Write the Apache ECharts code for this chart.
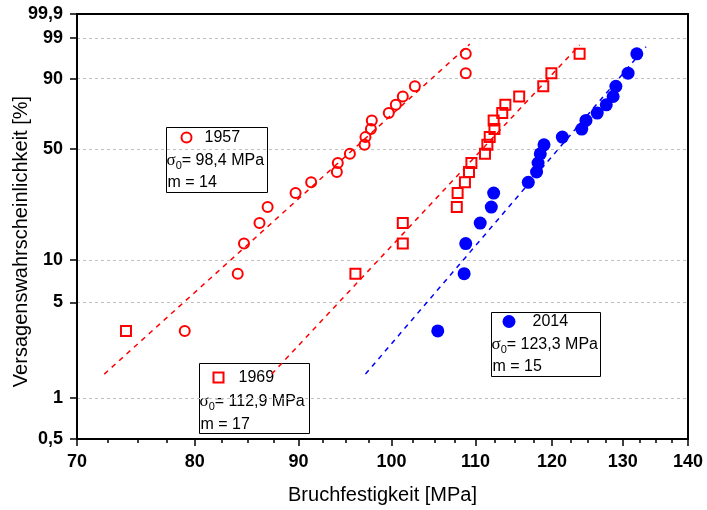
<!DOCTYPE html>
<html>
<head>
<meta charset="utf-8">
<script src="https://cdn.jsdelivr.net/npm/echarts@6/dist/echarts.min.js"></script>
<style>
  html, body { margin: 0; padding: 0; background: #fff; }
  #chart { width: 707px; height: 510px; }
</style>
</head>
<body>
<div id="chart"></div>
<script>
// Weibull plot: failure probability (median ranks) against flexural strength
const probabilityPct = [3.1, 8.0, 13.0, 17.9, 22.8, 28.0, 32.6, 37.5, 42.2, 47.3,
                        52.6, 57.3, 62.3, 67.7, 72.2, 77.1, 81.7, 86.7, 92.0, 97.0];
const strength1957 = [79.1, 84.0, 84.6, 86.1, 86.9, 89.7, 91.3, 94.0, 94.1, 95.4,
                      97.0, 97.1, 97.7, 97.8, 99.7, 100.5, 101.3, 102.7, 108.8, 108.8];
const strength1969 = [74.0, 96.0, 101.3, 101.3, 107.7, 107.8, 108.7, 109.2, 109.5, 111.2,
                      111.5, 111.8, 112.4, 112.3, 113.4, 113.8, 115.6, 118.8, 119.9, 123.8];
const strength2014 = [105.4, 108.6, 108.8, 110.6, 112.0, 112.3, 116.8, 117.9, 118.1, 118.4,
                      118.9, 121.4, 124.1, 124.7, 126.3, 127.6, 128.6, 129.0, 130.8, 132.1];

// Fitted Weibull lines: [strength MPa, probability %] at both ends
const fitLine1957 = [[72.2, 1.5], [109.3, 98.4]];
const fitLine1969 = [[87.3, 1.5], [123.8, 98.3]];
const fitLine2014 = [[97.1, 1.5], [133.5, 98.1]];

// Legend texts
const years = ['1957', '1969', '2014'];
const sigma0 = ['98,4', '112,9', '123,3'];
const modulus = ['14', '17', '15'];

// Axis ticks
const yTicksPct = [0.5, 1, 5, 10, 50, 90, 99, 99.9];
const xTicks = [70, 80, 90, 100, 110, 120, 130, 140];
const xMinorTicks = [72.5, 75, 77.5, 82.5, 85, 87.5, 92.5, 95, 97.5, 102.5, 105, 107.5,
                     112.5, 115, 117.5, 122.5, 125, 127.5, 132.5, 135, 137.5];

// Weibull probability transform: ln(-ln(1 - F))
const weib = p => Math.log(-Math.log(1 - p / 100));
const yTickVals = yTicksPct.map(weib);
const yMin = weib(yTicksPct[0]);
const yMax = weib(yTicksPct[yTicksPct.length - 1]);

const RED = '#ff0000';
const BLUE = '#0000ff';
const FONT = '"Liberation Sans", Arial, sans-serif';

const points = xs => xs.map((x, i) => [x, weib(probabilityPct[i])]);
const linePts = arr => arr.map(([x, p]) => [x, weib(p)]);

const chart = echarts.init(document.getElementById('chart'), null, { renderer: 'canvas' });

const fitStyle = color => ({
  type: 'line',
  xAxisIndex: 0, yAxisIndex: 0,
  symbol: 'none',
  silent: true,
  lineStyle: { color, width: 1.5, type: [5, 5] },
  z: 2
});

// Legend boxes: position, size, text rows
const legendLayout = [
  { x: 166.5, y: 127.5, w: 101, h: 65, mx: 20, rows: [10, 33, 55], tx: 38 },
  { x: 199.5, y: 363.5, w: 110, h: 70, mx: 19, rows: [14, 38.5, 61.5], tx: 39 },
  { x: 491.5, y: 312.5, w: 109, h: 64, mx: 17.5, rows: [9, 32, 54], tx: 41 }
];
const legendMarkers = [
  r => ({ type: 'circle', shape: { cx: legendLayout[0].mx, cy: r, r: 5 },
          style: { fill: 'none', stroke: RED, lineWidth: 2 } }),
  r => ({ type: 'rect', shape: { x: legendLayout[1].mx - 5, y: r - 5, width: 10, height: 10 },
          style: { fill: 'none', stroke: RED, lineWidth: 2 } }),
  r => ({ type: 'circle', shape: { cx: legendLayout[2].mx, cy: r, r: 6.5 },
          style: { fill: BLUE, stroke: BLUE, lineWidth: 0 } })
];

const legendGraphics = legendLayout.map((L, i) => ({
  type: 'group',
  x: L.x, y: L.y,
  z: 100,
  children: [
    { type: 'rect', shape: { x: 0, y: 0, width: L.w, height: L.h },
      style: { fill: '#fff', stroke: '#000', lineWidth: 1 } },
    legendMarkers[i](L.rows[0]),
    { type: 'text', x: L.tx, y: L.rows[0],
      style: { text: years[i], fill: '#000', font: '16px ' + FONT, verticalAlign: 'middle', align: 'left' } },
    { type: 'text', x: 0, y: L.rows[1],
      style: {
        text: '{s|σ}{sub|0}{t|= ' + sigma0[i] + ' MPa}',
        verticalAlign: 'middle', align: 'left', fill: '#000',
        rich: {
          s: { fontSize: 17, fontFamily: '"Liberation Serif", "DejaVu Serif", serif', fill: '#000', lineHeight: 22 },
          sub: { fontSize: 11, fontFamily: FONT, fill: '#000', lineHeight: 12, padding: [10, 0, 0, 0] },
          t: { fontSize: 16, fontFamily: FONT, fill: '#000', lineHeight: 22 }
        }
      } },
    { type: 'text', x: 1, y: L.rows[2],
      style: { text: 'm = ' + modulus[i], fill: '#000', font: '16px ' + FONT, verticalAlign: 'middle', align: 'left' } }
  ]
}));

const option = {
  backgroundColor: '#fff',
  animation: false,
  grid: { left: 77, right: 19, top: 14, bottom: 71, outerBoundsMode: 'none', containLabel: false },
  xAxis: [
    {
      type: 'log', logBase: 10, min: 70, max: 140, position: 'bottom',
      name: 'Bruchfestigkeit [MPa]', nameLocation: 'middle', nameGap: 46, nameMoveOverlap: false,
      nameTextStyle: { fontSize: 20, fontFamily: FONT, color: '#000' },
      axisLine: { show: true, onZero: false, lineStyle: { color: '#000', width: 2 } },
      axisTick: { show: true, inside: false, length: 7, customValues: xTicks, lineStyle: { color: '#000', width: 1.5 } },
      axisLabel: { customValues: xTicks, formatter: v => String(Math.round(v)), fontSize: 18,
                   fontWeight: 'bold', fontFamily: FONT, color: '#000', margin: 14 },
      splitLine: { show: false }, minorTick: { show: false }
    },
    {
      type: 'log', logBase: 10, min: 70, max: 140, position: 'bottom',
      axisLine: { show: false, onZero: false },
      axisTick: { show: true, inside: false, length: 4, customValues: xMinorTicks, lineStyle: { color: '#000', width: 1.5 } },
      axisLabel: { show: false },
      splitLine: { show: false }
    },
    {
      type: 'log', logBase: 10, min: 70, max: 140, position: 'top',
      axisLine: { show: true, onZero: false, lineStyle: { color: '#000', width: 2 } },
      axisTick: { show: false }, axisLabel: { show: false }, splitLine: { show: false }
    }
  ],
  yAxis: [
    {
      type: 'value', min: yMin, max: yMax, position: 'left',
      name: 'Versagenswahrscheinlichkeit [%]', nameLocation: 'middle', nameGap: 46, nameMoveOverlap: false,
      nameTextStyle: { fontSize: 20, fontFamily: FONT, color: '#000', padding: [0, 30, 0, 0] },
      axisLine: { show: true, onZero: false, lineStyle: { color: '#000', width: 2 } },
      axisTick: { show: true, inside: false, length: 7, customValues: yTickVals, lineStyle: { color: '#000', width: 1.5 } },
      axisLabel: {
        customValues: yTickVals,
        formatter: v => {
          const i = yTickVals.findIndex(t => Math.abs(t - v) < 1e-6);
          return i < 0 ? '' : String(yTicksPct[i]).replace('.', ',');
        },
        fontSize: 18, fontWeight: 'bold', fontFamily: FONT, color: '#000', margin: 14
      },
      splitLine: { show: true, lineStyle: { color: '#c0c0c0', width: 1, type: [3, 3] } }
    },
    {
      type: 'value', min: yMin, max: yMax, position: 'right',
      axisLine: { show: true, onZero: false, lineStyle: { color: '#000', width: 2 } },
      axisTick: { show: false }, axisLabel: { show: false }, splitLine: { show: false }
    }
  ],
  series: [
    Object.assign(fitStyle(RED), { name: 'Fit 1957', data: linePts(fitLine1957) }),
    Object.assign(fitStyle(RED), { name: 'Fit 1969', data: linePts(fitLine1969) }),
    Object.assign(fitStyle(BLUE), { name: 'Fit 2014', data: linePts(fitLine2014) }),
    {
      name: years[0], type: 'scatter', xAxisIndex: 0, yAxisIndex: 0,
      symbol: 'circle', symbolSize: 10, z: 3,
      itemStyle: { color: 'rgba(0,0,0,0)', borderColor: RED, borderWidth: 2, opacity: 1 },
      data: points(strength1957)
    },
    {
      name: years[1], type: 'scatter', xAxisIndex: 0, yAxisIndex: 0,
      symbol: 'rect', symbolSize: 10, z: 3,
      itemStyle: { color: 'rgba(0,0,0,0)', borderColor: RED, borderWidth: 2, opacity: 1 },
      data: points(strength1969)
    },
    {
      name: years[2], type: 'scatter', xAxisIndex: 0, yAxisIndex: 0,
      symbol: 'circle', symbolSize: 13, z: 3,
      itemStyle: { color: BLUE, opacity: 1 },
      data: points(strength2014)
    }
  ],
  graphic: legendGraphics
};

chart.setOption(option);
</script>
</body>
</html>
